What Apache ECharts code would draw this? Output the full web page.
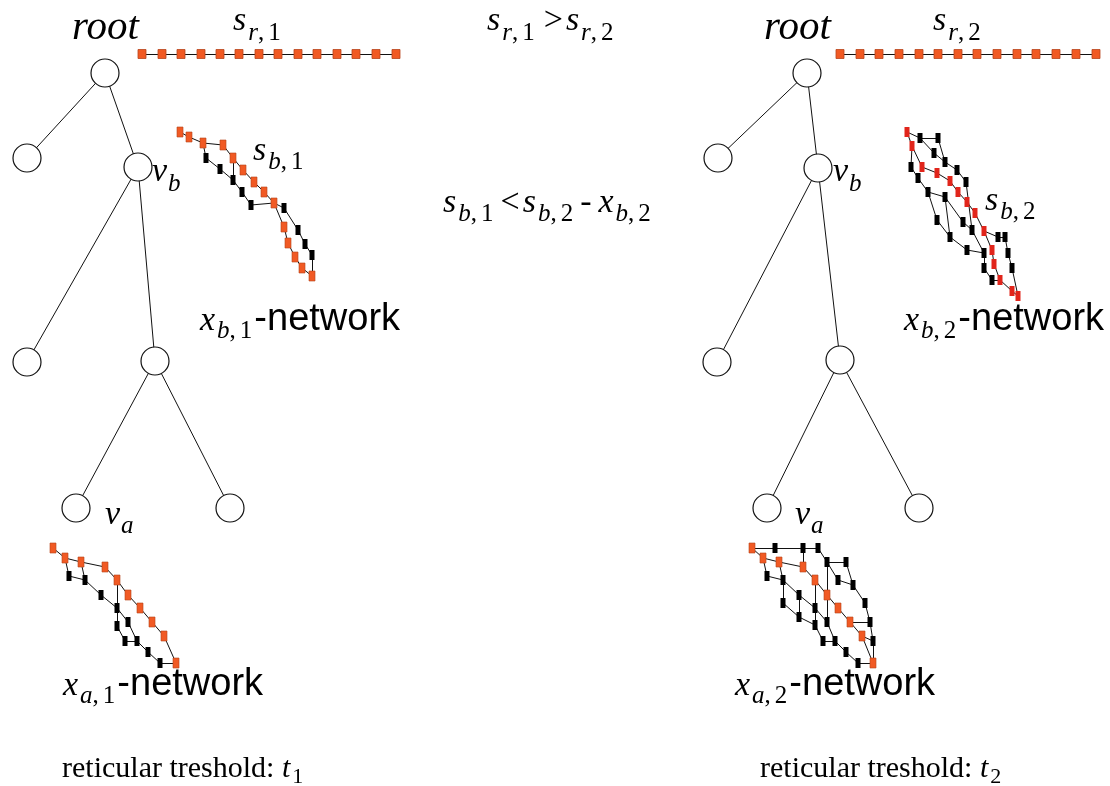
<!DOCTYPE html>
<html><head><meta charset="utf-8">
<script src="https://cdn.jsdelivr.net/npm/echarts@6/dist/echarts.min.js"></script>
<style>html,body{margin:0;padding:0;background:#fff}#c{width:1110px;height:786px}</style>
</head><body><div id="c"></div>
<script>
// ---------- data (positions, in the figure's own x/y units) ----------
const treeLeftNodes  = [[105,73],[27,158],[138,167],[27,362],[155,361],[76,508],[230,508]];
const treeRightNodes = [[807,73],[718,158],[818,168],[717,362],[840,360],[767,508],[919,508]];
const treeEdges = [[0,1],[0,2],[2,3],[2,4],[4,5],[4,6]];

const chainY = 54;
const chainLeftX  = [142,162,181,201,220,239,259,278,298,317,337,356,376,396];
const chainRightX = [840,860,879,899,919,938,958,977,997,1017,1036,1056,1076,1096];

// x_{b,1}-network
const netB1Orange = [[180,132],[189,137],[203,143],[223,145],[233,158],[243,170],[254,182],[264,192],[274,203],[284,227],[288,243],[295,257],[302,268],[312,276]];
const netB1Black  = [[206,158],[220,169],[233,180],[242,192],[251,205],[284,208],[298,230],[305,244],[312,255]];
const netB1Edges = ['o0-o1','o1-o2','o2-o3','o3-o4','o4-o5','o5-o6','o6-o7','o7-o8','o8-o9','o9-o10','o10-o11','o11-o12','o12-o13',
  'o2-k0','k0-k1','k1-k2','k2-k3','k3-k4','k4-o8','o4-k2','o8-k5','k5-k6','k6-k7','k7-k8','k8-o13'];

// x_{a,1}-network
const netA1Orange = [[53,548],[65,558],[81,562],[105,567],[117,580],[128,595],[140,608],[152,622],[164,636],[176,663]];
const netA1Black  = [[69,576],[85,580],[101,595],[117,608],[128,622],[117,626],[125,641],[137,641],[148,652],[160,663]];
const netA1Edges = ['o0-o1','o1-o2','o2-o3','o3-o4','o4-o5','o5-o6','o6-o7','o7-o8','o8-o9',
  'o1-k0','k0-k1','o2-k1','k1-k2','k2-k3','o4-k3','k3-k4','k3-k5','k5-k6','k6-k7','k4-k7','k7-k8','k8-k9','k9-o9'];

// x_{b,2}-network
const netB2Red   = [[907,132],[912,146],[922,167],[937,173],[950,181],[958,192],[967,202],[975,213],[984,231],[992,250],[994,264],[1000,280],[1012,291],[1018,296]];
const netB2Black = [[920,138],[938,138],[934,153],[945,162],[957,170],[966,182],[911,167],[918,178],[928,192],[945,197],[937,220],[950,237],[963,222],[972,230],[967,250],[984,253],[998,237],[1005,237],[1008,253],[1012,268],[984,268],[992,280]];
const netB2Edges = ['o0-o1','o1-o2','o2-o3','o3-o4','o4-o5','o5-o6','o6-o7','o7-o8','o8-o9','o9-o10','o10-o11','o11-o12','o12-o13',
  'o0-k0','k0-k1','k0-k2','k2-k3','k3-k4','k4-k5','k1-k3','k5-k13',
  'o1-k6','k6-k7','k7-k8','k8-k10','k10-k11','k11-k14','k14-k15','k8-k9','k9-k12','k12-k13','k9-k11',
  'k13-k15','o8-k16','k16-k17','k17-k18','k18-k19','k19-o13','k15-k20','k20-k21','k21-o11'];

// x_{a,2}-network
const netA2Orange = [[752,548],[763,558],[779,562],[803,567],[815,580],[827,595],[838,608],[850,622],[862,636],[873,663]];
const netA2Black  = [[775,548],[803,548],[818,548],[827,562],[846,562],[838,580],[853,585],[865,603],[870,622],[873,641],
  [767,576],[783,580],[799,595],[815,608],[827,622],[783,603],[799,617],[815,625],[823,641],[835,641],[846,652],[858,663]];
const netA2Edges = ['o0-k0','k0-k1','k1-k2','o0-o1','o1-o2','o2-o3','o3-o4','o4-o5','o5-o6','o6-o7','o7-o8','o8-o9',
  'k1-o3','k2-k3','k3-k4','k4-k6','k3-k5','k5-k6','k6-k7','k7-k8','k8-k9','k9-o9','k3-o5','o7-k8','o8-k9',
  'o1-k10','k10-k11','o2-k11','k11-k12','k12-k13','k13-k14','k11-k15','k15-k16','k12-k16','k16-k17','k13-k17',
  'k17-k18','k18-k19','k14-k19','k19-k20','k20-k21','k21-o9','o4-k13','o5-k14'];

// ---------- build ----------
function nodeMap(orange, black){ const m={}; orange.forEach((p,i)=>m['o'+i]=p); black.forEach((p,i)=>m['k'+i]=p); return m; }
function netEdges(orange, black, edges){ const m=nodeMap(orange,black); return edges.map(e=>{const [a,b]=e.split('-'); return {coords:[m[a],m[b]]};}); }
function treeLines(nodes){ return treeEdges.map(([a,b])=>({coords:[nodes[a],nodes[b]]})); }
function chainLines(xs){ const out=[]; for(let i=0;i<xs.length-1;i++) out.push({coords:[[xs[i],chainY],[xs[i+1],chainY]]}); return out; }

const allLines = [].concat(
  treeLines(treeLeftNodes), treeLines(treeRightNodes),
  chainLines(chainLeftX), chainLines(chainRightX),
  netEdges(netB1Orange, netB1Black, netB1Edges),
  netEdges(netA1Orange, netA1Black, netA1Edges),
  netEdges(netB2Red, netB2Black, netB2Edges),
  netEdges(netA2Orange, netA2Black, netA2Edges)
);

// ---------- text with sub-scripts ----------
const SERIF = '"Liberation Serif","Times New Roman",serif';
const SANS = '"Liberation Sans",Arial,sans-serif';
const mctx = document.createElement('canvas').getContext('2d');
function fontOf(size, it, fam){ return (it?'italic ':'')+size+'px '+(fam==='sans'?SANS:SERIF); }
function run(x, base, parts){
  const els=[]; let cx=x;
  parts.forEach(([t,size,it,dy,gap,fam])=>{
    const f=fontOf(size,it,fam);
    mctx.font=f;
    const w=t?mctx.measureText(t).width:0;
    const k = fam==='sans'?0.346:0.338;
    els.push({type:'text', x:cx, y:base+(dy||0)-k*size, silent:true, z:100,
      style:{text:t, font:f, fill:'#000', align:'left', verticalAlign:'middle', textAlign:'left', textVerticalAlign:'middle'}});
    cx+=w+(gap||0);
  });
  return els;
}
const M=34, SB=25;
function sub(letter, idx1, idx2, d){ // e.g. s_{r,1}
  return [[letter,M,1,0,2],[idx1,SB,1,d,0],[',',SB,0,d,4],[idx2,SB,0,d,0]];
}
const NET = ['-network',38,0,0,0,'sans'];
const texts = [].concat(
  run(72,42,[['root',41,1,0,0]]),
  run(764,42,[['root',41,1,0,0]]),
  run(233,33,sub('s','r','1',9)),
  run(933,33,sub('s','r','2',9)),
  run(487,33,[].concat(sub('s','r','1',9),[['',0,0,0,9],['>',M,0,0,3]],sub('s','r','2',9))),
  run(253,163,sub('s','b','1',8)),
  run(985,213,sub('s','b','2',8)),
  run(152,184,[['v',M,1,0,1],['b',SB,1,9,0]]),
  run(833,184,[['v',M,1,0,1],['b',SB,1,9,0]]),
  run(443,215,[].concat(sub('s','b','1',8),[['',0,0,0,7],['<',M,0,0,3]],sub('s','b','2',8),[['',0,0,0,7],['-',M,0,0,7]],sub('x','b','2',8))),
  run(200,333,[].concat(sub('x','b','1',7),[['',0,0,0,2],NET])),
  run(904,333,[].concat(sub('x','b','2',7),[['',0,0,0,2],NET])),
  run(105,527,[['v',M,1,0,1],['a',SB,1,8,0]]),
  run(795,527,[['v',M,1,0,1],['a',SB,1,8,0]]),
  run(63,698,[].concat(sub('x','a','1',7),[['',0,0,0,2],NET])),
  run(735,698,[].concat(sub('x','a','2',7),[['',0,0,0,2],NET])),
  run(62,779,[['reticular treshold: ',30,0,0,0],['t',30,1,0,2],['1',22,0,6,0]]),
  run(760,779,[['reticular treshold: ',30,0,0,0],['t',30,1,0,2],['2',22,0,6,0]])
).filter(e=>e.style.text!=='');

const ORANGE='#F15A24', ORANGE_B='#B8441C', RED='#E1251B', BLACK='#000';
const chart = echarts.init(document.getElementById('c'));
chart.setOption({
  animation:false,
  backgroundColor:'#fff',
  grid:{left:0,right:0,top:0,bottom:0},
  xAxis:{type:'value',min:0,max:1110,show:false},
  yAxis:{type:'value',min:0,max:786,inverse:true,show:false},
  series:[
    {type:'lines',coordinateSystem:'cartesian2d',silent:true,z:1,
     lineStyle:{color:'#111',width:1,opacity:1},data:allLines},
    {type:'scatter',silent:true,z:3,symbol:'circle',symbolSize:28,
     itemStyle:{color:'#fff',borderColor:'#111',borderWidth:1.2,opacity:1},
     data:treeLeftNodes.concat(treeRightNodes)},
    {type:'scatter',silent:true,z:3,symbol:'rect',symbolSize:[8,9],
     itemStyle:{color:ORANGE,borderColor:ORANGE_B,borderWidth:0.8,opacity:1},
     data:chainLeftX.concat(chainRightX).map(x=>[x,chainY])},
    {type:'scatter',silent:true,z:3,symbol:'rect',symbolSize:[6,10],
     itemStyle:{color:ORANGE,borderColor:ORANGE_B,borderWidth:0.6,opacity:1},
     data:netB1Orange.concat(netA1Orange,netA2Orange)},
    {type:'scatter',silent:true,z:3,symbol:'rect',symbolSize:[5,10],
     itemStyle:{color:RED,opacity:1},data:netB2Red},
    {type:'scatter',silent:true,z:3,symbol:'rect',symbolSize:[5,10],
     itemStyle:{color:BLACK,opacity:1},
     data:netB1Black.concat(netA1Black,netB2Black,netA2Black)}
  ],
  graphic:texts
});
</script></body></html>
